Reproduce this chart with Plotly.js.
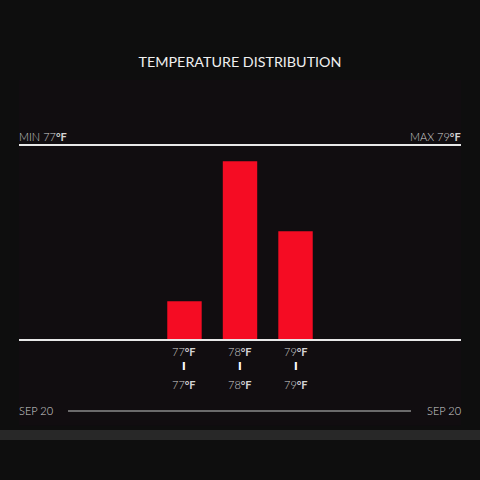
<!DOCTYPE html>
<html>
<head>
<meta charset="utf-8">
<script src="https://cdn.plot.ly/plotly-3.0.1.min.js"></script>
<style>
  html, body { margin: 0; padding: 0; background: #0e0e0e; }
  #chart { width: 480px; height: 480px; }
</style>
</head>
<body>
<div id="chart"></div>
<script>
// temperature buckets and how many readings fell in each
const temps = ["77", "78", "79"];
const counts = [7, 33, 20];
const minTemp = "77";
const maxTemp = "79";
const startDate = "SEP 20";
const endDate = "SEP 20";

const deg = "<b>°F</b>";
const labelFont = { family: "Lato, 'Open Sans', sans-serif", size: 11, color: "#d4d4d4", weight: 300 };

const xs = temps.map((t, i) => i);

const annotations = [];
xs.forEach((x, i) => {
  annotations.push({
    x: x, xref: "x", y: -0.067, yref: "paper",
    text: temps[i] + deg, showarrow: false, font: labelFont,
    xanchor: "center", yanchor: "middle",
  });
  annotations.push({
    x: x, xref: "x", y: -0.145, yref: "paper",
    text: "<b>I</b>", showarrow: false,
    font: { family: "'DejaVu Sans', sans-serif", size: 10, color: "#ffffff" },
    xanchor: "center", yanchor: "middle",
  });
  annotations.push({
    x: x, xref: "x", y: -0.238, yref: "paper",
    text: temps[i] + deg, showarrow: false, font: labelFont,
    xanchor: "center", yanchor: "middle",
  });
});

annotations.push(
  {
    x: 0, xref: "paper", y: 1.05, yref: "paper", xshift: -2,
    text: "MIN " + minTemp + deg, showarrow: false, font: labelFont,
    xanchor: "left", yanchor: "middle",
  },
  {
    x: 1, xref: "paper", y: 1.05, yref: "paper", xshift: 2,
    text: "MAX " + maxTemp + deg, showarrow: false, font: labelFont,
    xanchor: "right", yanchor: "middle",
  },
  {
    x: 0, xref: "paper", y: -0.373, yref: "paper", xshift: -2,
    text: startDate, showarrow: false, font: labelFont,
    xanchor: "left", yanchor: "middle",
  },
  {
    x: 1, xref: "paper", y: -0.373, yref: "paper", xshift: 2,
    text: endDate, showarrow: false, font: labelFont,
    xanchor: "right", yanchor: "middle",
  }
);

Plotly.newPlot(
  "chart",
  [
    {
      type: "bar",
      x: xs,
      y: counts,
      marker: { color: "#f50c23" },
      hoverinfo: "none",
    },
  ],
  {
    width: 480,
    height: 480,
    margin: { l: 19, r: 19, t: 146, b: 141 },
    paper_bgcolor: "#0e0e0e",
    plot_bgcolor: "rgba(0,0,0,0)",
    bargap: 0.38,
    showlegend: false,
    title: {
      text: "TEMPERATURE DISTRIBUTION",
      font: { family: "Lato, 'Open Sans', sans-serif", size: 14.3, color: "#f0f0f0" },
      x: 0.5,
      xanchor: "center",
      y: 1 - 62 / 480,
      yanchor: "middle",
    },
    xaxis: {
      range: [1 - 3.98, 1 + 3.98],
      showgrid: false,
      zeroline: false,
      showline: true,
      mirror: true,
      linecolor: "#e8e8e8",
      linewidth: 2,
      ticks: "",
      showticklabels: false,
      fixedrange: true,
    },
    yaxis: {
      range: [0, 35.84],
      showgrid: false,
      zeroline: false,
      showline: false,
      ticks: "",
      showticklabels: false,
      fixedrange: true,
    },
    shapes: [
      {
        type: "rect", xref: "paper", yref: "paper", layer: "below",
        x0: 0, x1: 1, y0: -0.45, y1: 1.342,
        fillcolor: "#110d10", line: { width: 0 },
      },
      {
        type: "rect", xref: "paper", yref: "paper", layer: "below",
        x0: -0.05, x1: 1.05, y0: -0.523, y1: -0.472,
        fillcolor: "#282828", line: { width: 0 },
      },
      {
        type: "line", xref: "paper", yref: "paper",
        x0: 49 / 442, x1: 392 / 442, y0: -0.373, y1: -0.373,
        line: { color: "#8a8a8a", width: 1.5 },
      },
    ],
    annotations: annotations,
  },
  { displayModeBar: false, staticPlot: true }
);
</script>
</body>
</html>
